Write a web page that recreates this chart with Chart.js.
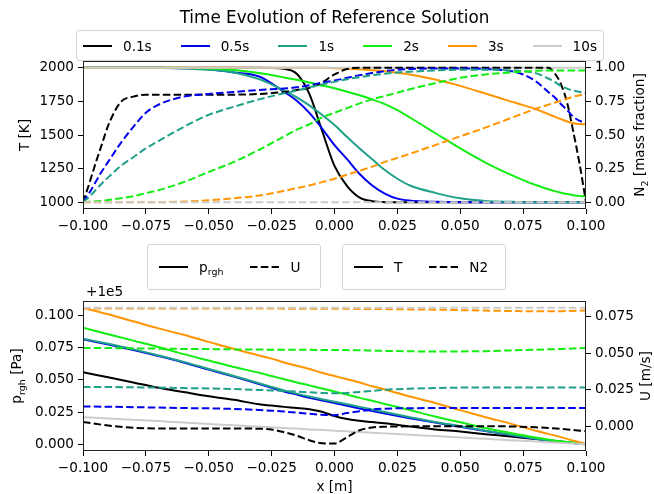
<!DOCTYPE html>
<html>
<head>
<meta charset="utf-8">
<script src="https://cdn.jsdelivr.net/npm/chart.js@4.4.1/dist/chart.umd.min.js"></script>
<style>
  body { margin: 0; background: #fff; font-family: "DejaVu Sans", sans-serif; }
  #wrap { position: relative; width: 654px; height: 494px; overflow: hidden; }
  canvas { position: absolute; left: 0; }
  .txt { position: absolute; font-size: 13.6px; color: #000; white-space: nowrap; line-height: 16px; }
  .rot { transform: translate(-50%, -50%) rotate(-90deg); }
  .legend { position: absolute; box-sizing: border-box; border: 1px solid #d4d4d4; border-radius: 3px;
            background: rgba(255,255,255,0.8); display: flex; align-items: center; font-size: 13.6px; z-index: 2; }
  .item { display: flex; align-items: center; }
  .item svg { margin-right: 11px; }
  .sub { font-size: 70%; position: relative; top: 4px; }
</style>
</head>
<body>
<div id="wrap">
  <canvas id="top" width="654" height="240" style="top:0"></canvas>
  <canvas id="bottom" width="654" height="254" style="top:240px"></canvas>

  <div class="txt" style="left:83px;width:503px;top:7px;text-align:center;font-size:16.8px;line-height:20px;">Time Evolution of Reference Solution</div>
  <div class="legend" id="legTop" style="left:76px;top:30px;height:31px;padding:0 6px;"></div>

  <div class="txt rot" style="left:24px;top:135px;">T [K]</div>
  <div class="txt rot" style="left:640px;top:135px;">N<span class="sub">2</span> [mass fraction]</div>

  <div class="legend" id="legP" style="left:147px;top:244px;width:174px;height:46px;padding:0 11px;"></div>
  <div class="legend" id="legT" style="left:342px;top:244px;width:164px;height:46px;padding:0 11px;"></div>

  <div class="txt" style="left:86px;top:283px;">+1e5</div>
  <div class="txt rot" style="left:17px;top:376px;">p<span class="sub">rgh</span> [Pa]</div>
  <div class="txt rot" style="left:645px;top:376px;">U [m/s]</div>
  <div class="txt" style="left:0;width:669px;top:478px;text-align:center;">x [m]</div>
</div>
<script>
// times and colours
const times = ['0.1s', '0.5s', '1s', '2s', '3s', '10s'];
const colors = ['#000000', '#0000ee', '#1fa189', '#11ee11', '#ff9500', '#cccccc'];

// top panel: temperature (left) and N2 (right)
const xTop = [-0.1, -0.0975, -0.095, -0.0925, -0.09, -0.085, -0.08, -0.075, -0.07, -0.06, -0.05, -0.04, -0.03,
              -0.02, -0.015, -0.01, -0.005, 0, 0.005, 0.01, 0.015, 0.02, 0.025, 0.03, 0.04, 0.05, 0.06, 0.07,
              0.075, 0.08, 0.085, 0.0875, 0.09, 0.0925, 0.095, 0.0975, 0.1];

const T_01 = [2000, 2000, 2000, 2000, 2000, 2000, 2000, 2000, 2000, 2000, 2000, 2000, 2000,
              1992, 1955, 1805, 1535, 1270, 1120, 1035, 1008, 1001, 1000, 1000, 1000, 1000, 1000, 1000,
              1000, 1000, 1000, 1000, 1000, 1000, 1000, 1000, 1000];
const T_05 = [2000, 2000, 2000, 2000, 2000, 2000, 2000, 2000, 2000, 1997, 1988, 1965, 1935,
              1820, 1755, 1665, 1550, 1425, 1320, 1210, 1125, 1065, 1027, 1012, 1003, 1000, 1000, 1000,
              1000, 1000, 1000, 1000, 1000, 1000, 1000, 1000, 1000];
const T_1 = [2000, 2000, 2000, 2000, 2000, 2000, 2000, 2000, 1999, 1995, 1985, 1965, 1915,
             1830, 1780, 1720, 1650, 1575, 1485, 1400, 1320, 1240, 1175, 1125, 1070, 1030, 1010, 1003,
             1001, 1000, 1000, 1000, 1000, 1000, 1000, 1000, 1000];
const T_2 = [2000, 2000, 2000, 2000, 2000, 2000, 2000, 2000, 2000, 1999, 1995, 1983, 1960,
             1928, 1910, 1890, 1868, 1848, 1822, 1795, 1765, 1730, 1685, 1630, 1515, 1400, 1295, 1205,
             1165, 1128, 1097, 1083, 1071, 1061, 1053, 1047, 1043];
const T_3 = [2000, 2000, 2000, 2000, 2000, 2000, 2000, 2000, 2000, 2000, 2000, 2000, 2000,
             2000, 2000, 2000, 1999, 1997, 1993, 1988, 1981, 1973, 1963, 1950, 1912, 1865, 1808, 1750,
             1722, 1692, 1655, 1637, 1618, 1600, 1588, 1582, 1580];
const T_10 = [2000, 2000, 2000, 2000, 2000, 2000, 2000, 2000, 2000, 2000, 2000, 2000, 2000,
              2000, 2000, 2000, 2000, 2000, 2000, 2000, 2000, 2000, 2000, 2000, 2000, 2000, 2000, 2000,
              2000, 2000, 2000, 2000, 2000, 2000, 2000, 2000, 2000];

const N2_01 = [0, 0.14, 0.29, 0.43, 0.57, 0.745, 0.785, 0.80, 0.80, 0.80, 0.80, 0.80, 0.805,
               0.82, 0.835, 0.85, 0.89, 0.95, 0.99, 1.0, 1.0, 1.0, 1.0, 1.0, 1.0, 1.0, 1.0, 1.0,
               1.0, 1.0, 1.0, 0.96, 0.88, 0.74, 0.52, 0.28, 0.0];
const N2_05 = [0, 0.07, 0.15, 0.23, 0.30, 0.44, 0.56, 0.665, 0.725, 0.785, 0.805, 0.82, 0.835,
               0.845, 0.855, 0.87, 0.89, 0.905, 0.925, 0.945, 0.96, 0.975, 0.985, 0.99, 0.995, 0.995, 0.99, 0.975,
               0.95, 0.90, 0.82, 0.78, 0.73, 0.685, 0.635, 0.605, 0.595];
const N2_1 = [0, 0.04, 0.09, 0.14, 0.185, 0.27, 0.335, 0.40, 0.455, 0.56, 0.65, 0.71, 0.765,
              0.81, 0.83, 0.855, 0.875, 0.895, 0.915, 0.93, 0.945, 0.955, 0.965, 0.97, 0.98, 0.985, 0.985, 0.98,
              0.975, 0.96, 0.92, 0.895, 0.865, 0.845, 0.83, 0.82, 0.81];
const N2_2 = [0, 0.003, 0.007, 0.012, 0.017, 0.03, 0.045, 0.068, 0.09, 0.15, 0.225, 0.30, 0.39,
              0.49, 0.54, 0.58, 0.63, 0.665, 0.70, 0.735, 0.765, 0.79, 0.815, 0.84, 0.885, 0.925, 0.95, 0.965,
              0.972, 0.977, 0.98, 0.98, 0.98, 0.98, 0.98, 0.98, 0.98];
const N2_3 = [0, 0, 0, 0, 0, 0, 0, 0, 0, 0.005, 0.015, 0.03, 0.05,
              0.085, 0.105, 0.125, 0.15, 0.175, 0.205, 0.235, 0.265, 0.30, 0.33, 0.36, 0.425, 0.49, 0.555, 0.625,
              0.66, 0.695, 0.725, 0.74, 0.755, 0.77, 0.785, 0.795, 0.805];
const N2_10 = [0, 0, 0, 0, 0, 0, 0, 0, 0, 0, 0, 0, 0, 0, 0, 0, 0, 0, 0, 0, 0, 0, 0, 0, 0, 0, 0, 0,
               0, 0, 0, 0, 0, 0, 0, 0, 0];

// bottom panel: p_rgh - 1e5 (left) and U (right)
const xBot = [-0.1, -0.09, -0.08, -0.07, -0.06, -0.05, -0.04, -0.03, -0.025, -0.02, -0.015, -0.01, -0.005,
              0, 0.005, 0.01, 0.015, 0.02, 0.03, 0.04, 0.05, 0.06, 0.07, 0.08, 0.09, 0.1];

const p_01 = [0.056, 0.052, 0.048, 0.0438, 0.0405, 0.0372, 0.0345, 0.031, 0.030, 0.029, 0.0282, 0.0272, 0.0252,
              0.0218, 0.0195, 0.0182, 0.0172, 0.0162, 0.0138, 0.0115, 0.0098, 0.0078, 0.006, 0.004, 0.002, 0.0];
const p_05 = [0.0815, 0.0775, 0.0732, 0.0685, 0.0635, 0.058, 0.0525, 0.0467, 0.0438, 0.041, 0.0385, 0.036, 0.034,
              0.032, 0.0298, 0.0277, 0.0257, 0.0238, 0.0202, 0.0168, 0.0135, 0.0102, 0.0071, 0.0042, 0.0017, 0.0];
const p_1 = [0.082, 0.078, 0.0737, 0.069, 0.064, 0.0585, 0.053, 0.0473, 0.0445, 0.0418, 0.0393, 0.037, 0.035,
             0.033, 0.031, 0.029, 0.027, 0.025, 0.021, 0.0173, 0.014, 0.0105, 0.0073, 0.0043, 0.0018, 0.0];
const p_2 = [0.0905, 0.0855, 0.0805, 0.0755, 0.070, 0.065, 0.060, 0.0555, 0.053, 0.0505, 0.048, 0.0457, 0.0433,
             0.041, 0.0385, 0.036, 0.0337, 0.0313, 0.0265, 0.0215, 0.017, 0.0125, 0.0087, 0.0052, 0.0022, 0.0];
const p_3 = [0.106, 0.101, 0.0955, 0.090, 0.085, 0.0795, 0.074, 0.069, 0.0665, 0.0635, 0.061, 0.0585, 0.0555,
             0.053, 0.0505, 0.048, 0.045, 0.0425, 0.037, 0.032, 0.0265, 0.021, 0.016, 0.0105, 0.0055, 0.0];
const p_10 = [0.021, 0.020, 0.019, 0.018, 0.0168, 0.0157, 0.0147, 0.0136, 0.0131, 0.0126, 0.0121, 0.0115, 0.011,
              0.0105, 0.010, 0.0094, 0.0089, 0.0084, 0.0073, 0.0063, 0.0052, 0.0042, 0.0031, 0.0021, 0.001, 0.0];

const U_01 = [0.0032, 0.0007, -0.0008, -0.0013, -0.0013, -0.0013, -0.0013, -0.0015, -0.002, -0.0038, -0.0062, -0.0093, -0.0113,
              -0.0115, -0.0072, -0.0025, -0.0006, -0.0001, 0.0002, 0.0003, 0.0003, 0.0003, 0.0001, -0.0005, -0.0015, -0.0032];
const U_05 = [0.0137, 0.0135, 0.0132, 0.0129, 0.0126, 0.0124, 0.012, 0.0113, 0.0108, 0.0102, 0.0095, 0.0087, 0.008,
              0.0077, 0.0092, 0.0105, 0.0116, 0.0122, 0.0125, 0.0126, 0.0126, 0.0126, 0.0126, 0.0126, 0.0126, 0.0126];
const U_1 = [0.027, 0.0269, 0.0267, 0.0265, 0.0262, 0.0259, 0.0255, 0.0249, 0.0246, 0.0242, 0.0238, 0.0233, 0.0229,
             0.0226, 0.0229, 0.0236, 0.0243, 0.025, 0.0258, 0.0262, 0.0265, 0.0266, 0.0266, 0.0266, 0.0266, 0.0266];
const U_2 = [0.0535, 0.0534, 0.0532, 0.053, 0.0528, 0.0527, 0.0525, 0.0524, 0.0523, 0.0523, 0.0522, 0.0522, 0.0521,
             0.0521, 0.052, 0.0519, 0.0517, 0.0515, 0.0512, 0.051, 0.0511, 0.0513, 0.0518, 0.0523, 0.0528, 0.0535];
const U_3 = [0.0803, 0.0803, 0.0803, 0.0803, 0.0803, 0.0803, 0.0803, 0.0803, 0.0803, 0.0802, 0.0802, 0.0802, 0.0802,
             0.0801, 0.0801, 0.080, 0.080, 0.0799, 0.0797, 0.0795, 0.0792, 0.0789, 0.0786, 0.0784, 0.0785, 0.079];
const U_10 = [0.0808, 0.0808, 0.0808, 0.0808, 0.0808, 0.0808, 0.0808, 0.0808, 0.0808, 0.0808, 0.0808, 0.0808, 0.0808,
              0.0808, 0.0808, 0.0808, 0.0808, 0.0808, 0.0808, 0.0808, 0.0808, 0.0808, 0.0808, 0.0808, 0.0808, 0.0808];

// ticks
const xTicks = [-0.1, -0.075, -0.05, -0.025, 0, 0.025, 0.05, 0.075, 0.1];
const tTicks = [1000, 1250, 1500, 1750, 2000];
const n2Ticks = [0, 0.25, 0.5, 0.75, 1.0];
const pTicks = [0, 0.025, 0.05, 0.075, 0.1];
const uTicks = [0, 0.025, 0.05, 0.075];

const FONT = {family: 'DejaVu Sans', size: 13.6};
const DASH = [7.5, 3.3];

function fmt(v, d) {
        return v.toFixed(d).replace('-', '\u2212');
}

function pts(xs, ys) {
        return xs.map((x, i) => ({x: x, y: ys[i]}));
}

// later in the list = drawn on top (Chart.js draws lower order last)
function makeSets(xs, solid, dashed) {
        let sets = [];
        let n = 0;
        solid.forEach((ys, i) => {
                sets.push({data: pts(xs, ys), borderColor: colors[i], borderWidth: 2, yAxisID: 'yL', order: 100 - n++});
        });
        dashed.forEach((ys, i) => {
                sets.push({data: pts(xs, ys), borderColor: colors[i], borderWidth: 2, borderDash: DASH, yAxisID: 'yR', order: 100 - n++});
        });
        return sets;
}

const framePlugin = {
        id: 'frame',
        afterDraw(chart) {
                const a = chart.chartArea, c = chart.ctx;
                c.save();
                c.strokeStyle = '#222';
                c.lineWidth = 1;
                c.strokeRect(a.left + 0.5, a.top + 0.5, a.right - a.left - 1, a.bottom - a.top - 1);
                c.restore();
        }
};

function axis(pos, ticks, min, max, dec, size) {
        return {
                type: 'linear',
                position: pos,
                min: min,
                max: max,
                afterBuildTicks: s => { s.ticks = ticks.map(v => ({value: v})); },
                afterFit: s => { if (pos === 'bottom') s.height = size; else s.width = size; },
                grid: {drawOnChartArea: false, drawTicks: true, tickLength: 5, color: '#000', lineWidth: 1},
                border: {display: false},
                ticks: {font: FONT, color: '#000', padding: 4, maxRotation: 0, autoSkip: false,
                        callback: v => fmt(v, dec)}
        };
}

function registerChart(id, xs, solid, dashed, yL, yR, xHeight) {
        new Chart(document.getElementById(id).getContext('2d'), {
                type: 'line',
                data: {datasets: makeSets(xs, solid, dashed)},
                options: {
                        responsive: false,
                        animation: false,
                        devicePixelRatio: 1,
                        layout: {padding: {top: 61, left: 0, right: 0, bottom: 0}},
                        elements: {point: {radius: 0}, line: {cubicInterpolationMode: 'monotone'}},
                        plugins: {legend: {display: false}, title: {display: false}, tooltip: {enabled: false}},
                        scales: {
                                x: axis('bottom', xTicks, -0.1, 0.1, 3, xHeight),
                                yL: yL,
                                yR: yR
                        }
                },
                plugins: [framePlugin]
        });
}

registerChart('top', xTop, [T_01, T_05, T_1, T_2, T_3, T_10], [N2_01, N2_05, N2_1, N2_2, N2_3, N2_10],
        axis('left', tTicks, 950, 2050, 0, 83), axis('right', n2Ticks, -0.05, 1.05, 2, 68), 31);

registerChart('bottom', xBot, [p_01, p_05, p_1, p_2, p_3, p_10], [U_01, U_05, U_1, U_2, U_3, U_10],
        axis('left', pTicks, -0.0053, 0.1113, 3, 83), axis('right', uTicks, -0.0166, 0.0854, 3, 68), 43);

// legends
function handle(color, dashed) {
        const dash = dashed ? ' stroke-dasharray="7.5 3.3"' : '';
        return '<svg width="29" height="4"><line x1="0" y1="2" x2="29" y2="2" stroke="' + color +
               '" stroke-width="2"' + dash + '/></svg>';
}

document.getElementById('legTop').innerHTML = times.map((t, i) =>
        '<span class="item" style="margin-right:' + (i < times.length - 1 ? 29 : 0) + 'px">' +
        handle(colors[i], false) + t + '</span>').join('');

document.getElementById('legP').innerHTML =
        '<span class="item" style="margin-right:27px">' + handle('#000', false) + 'p<span class="sub">rgh</span></span>' +
        '<span class="item">' + handle('#000', true) + 'U</span>';
document.getElementById('legT').innerHTML =
        '<span class="item" style="margin-right:27px">' + handle('#000', false) + 'T</span>' +
        '<span class="item">' + handle('#000', true) + 'N2</span>';
</script>
</body>
</html>
